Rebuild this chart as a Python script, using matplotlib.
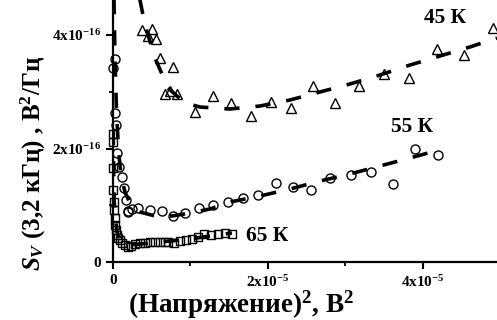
import matplotlib
matplotlib.use("Agg")
import matplotlib.pyplot as plt
import numpy as np

plt.rcParams['font.family'] = ['Liberation Serif', 'DejaVu Serif']
plt.rcParams['font.weight'] = 'bold'
plt.rcParams['mathtext.fontset'] = 'custom'
plt.rcParams['mathtext.rm'] = 'Liberation Serif:bold'
plt.rcParams['mathtext.it'] = 'Liberation Serif:italic:bold'
plt.rcParams['mathtext.bf'] = 'Liberation Serif:bold'
plt.rcParams['lines.scale_dashes'] = False

# units: x in 1e-5 V^2, y in 1e-16 V^2/Hz
x45 = [0.370, 0.499, 0.452, 0.555, 0.606, 0.770, 0.671, 0.735, 0.826, 1.058, 1.286,
       1.519, 1.777, 2.039, 2.293, 2.577, 2.865, 3.174, 3.497, 3.819, 4.181, 4.529, 4.903]
y45 = [4.09, 4.11, 3.98, 3.93, 3.59, 3.44, 2.96, 3.01, 2.96, 2.64, 2.93,
       2.81, 2.57, 2.82, 2.72, 3.10, 2.81, 3.10, 3.31, 3.24, 3.75, 3.65, 4.13]

x55 = [0.006, 0.026, 0.026, 0.045, 0.052, 0.081, 0.112, 0.142, 0.168, 0.190, 0.194, 0.245,
       0.329, 0.477, 0.626, 0.771, 0.935, 1.106, 1.286, 1.484, 1.674, 1.875, 2.097, 2.323,
       2.559, 2.800, 3.065, 3.329, 3.609, 3.897, 4.197]
y55 = [3.42, 3.58, 2.62, 2.41, 1.92, 1.68, 1.50, 1.30, 1.09, 0.899, 0.881, 0.934,
       0.960, 0.925, 0.899, 0.811, 0.869, 0.951, 0.996, 1.062, 1.128, 1.186, 1.387, 1.322,
       1.269, 1.475, 1.539, 1.586, 1.371, 1.986, 1.885]

x65 = [0.001, 0.001, 0.002, 0.006, 0.013, 0.019, 0.026, 0.032, 0.039, 0.052, 0.068, 0.084,
       0.112, 0.155, 0.194, 0.232, 0.284, 0.348, 0.413, 0.477, 0.542, 0.606, 0.671, 0.714,
       0.791, 0.865, 0.938, 1.015, 1.101, 1.178, 1.265, 1.351, 1.445, 1.532]
y65 = [2.26, 2.11, 1.66, 1.27, 1.06, 0.916, 0.775, 0.652, 0.564, 0.476, 0.423, 0.388,
       0.335, 0.300, 0.273, 0.282, 0.326, 0.335, 0.340, 0.352, 0.352, 0.358, 0.361, 0.347,
       0.330, 0.375, 0.388, 0.400, 0.435, 0.493, 0.476, 0.493, 0.516, 0.493]

# fitted curves
fx45 = [0.330, 0.348, 0.413, 0.542, 0.710, 0.929, 1.123, 1.510, 1.897, 2.284, 2.671, 3.058,
        3.445, 3.832, 4.219, 4.606, 4.955]
fy45 = [4.90, 4.617, 4.176, 3.595, 3.066, 2.802, 2.731, 2.696, 2.749, 2.855, 2.996, 3.137,
        3.295, 3.471, 3.630, 3.789, 3.947]
fx55 = [0.010, 0.013, 0.026, 0.045, 0.071, 0.103, 0.155, 0.232, 0.348, 0.542, 0.761, 0.994,
        1.252, 1.510, 1.897, 2.284, 2.671, 3.058, 3.445, 3.832, 4.065]
fy55 = [5.00, 4.617, 3.56, 2.68, 1.97, 1.53, 1.23, 1.00, 0.881, 0.811, 0.811, 0.863,
        0.934, 1.057, 1.163, 1.286, 1.427, 1.551, 1.692, 1.833, 1.921]
fx65 = [0.003, 0.008, 0.015, 0.026, 0.052, 0.090, 0.155, 0.284, 0.477, 0.735, 0.994, 1.252, 1.535]
fy65 = [2.33, 1.62, 1.09, 0.828, 0.529, 0.388, 0.317, 0.308, 0.335, 0.370, 0.405, 0.458, 0.511]

labels = ["45 К", "55 К", "65 К"]
label_pos = [(4.28, 4.30), (3.86, 2.38), (1.99, 0.458)]

fig = plt.figure(figsize=(4.97, 3.20), dpi=100)
ax = fig.add_axes([113/497, 58/320, 1 - 113/497, 1 - 58/320])

dash = (0, (11, 11.5))
for fx, fy in [(fx45, fy45), (fx55, fy55), (fx65, fy65)]:
    ax.plot(fx, fy, color='black', lw=2.6, linestyle=dash, zorder=2)

mk = dict(linestyle='none', markerfacecolor='none', markeredgecolor='black',
          markeredgewidth=1.0, zorder=3, clip_on=False)
ax.plot(x45, y45, marker='^', markersize=7, **mk)
ax.plot(x55, y55, marker='o', markersize=6.5, **mk)
ax.plot(x65, y65, marker='s', markersize=5.7, **mk)

for t, (tx, ty) in zip(labels, label_pos):
    ax.text(tx, ty, t, ha='center', va='center', fontsize=15.5, fontweight='bold')

ax.set_xlim(0, 4.955)
ax.set_ylim(0, 4.617)
for s in ['top', 'right']:
    ax.spines[s].set_visible(False)
for s in ['left', 'bottom']:
    ax.spines[s].set_linewidth(1.6)

ax.set_xticks([0, 2, 4])
ax.set_xticklabels(['0', r'2x10$^{-5}$', r'4x10$^{-5}$'])
ax.set_xticks([1, 3], minor=True)
ax.set_yticks([0, 2, 4])
ax.set_yticklabels(['0', r'2x10$^{-16}$', r'4x10$^{-16}$'])
ax.set_yticks([1, 3], minor=True)
ax.tick_params(which='major', direction='out', length=5, width=1.5, labelsize=11)
ax.tick_params(which='minor', direction='out', length=3, width=1.3)

ax.set_xlabel(r'(Напряжение)$^2$, В$^2$', fontsize=19.5, fontweight='bold')
ax.xaxis.label.set_va('baseline')
ax.xaxis.set_label_coords((241 - 113) / 384, (262 - 313) / 262)
ax.set_ylabel(r'$S_V$ (3,2 кГц) , В$^2$/Гц', fontsize=18, fontweight='bold')
ax.yaxis.set_label_coords((48 - 113) / 384, (262 - 163) / 262)

fig.savefig('out.png', dpi=100)
